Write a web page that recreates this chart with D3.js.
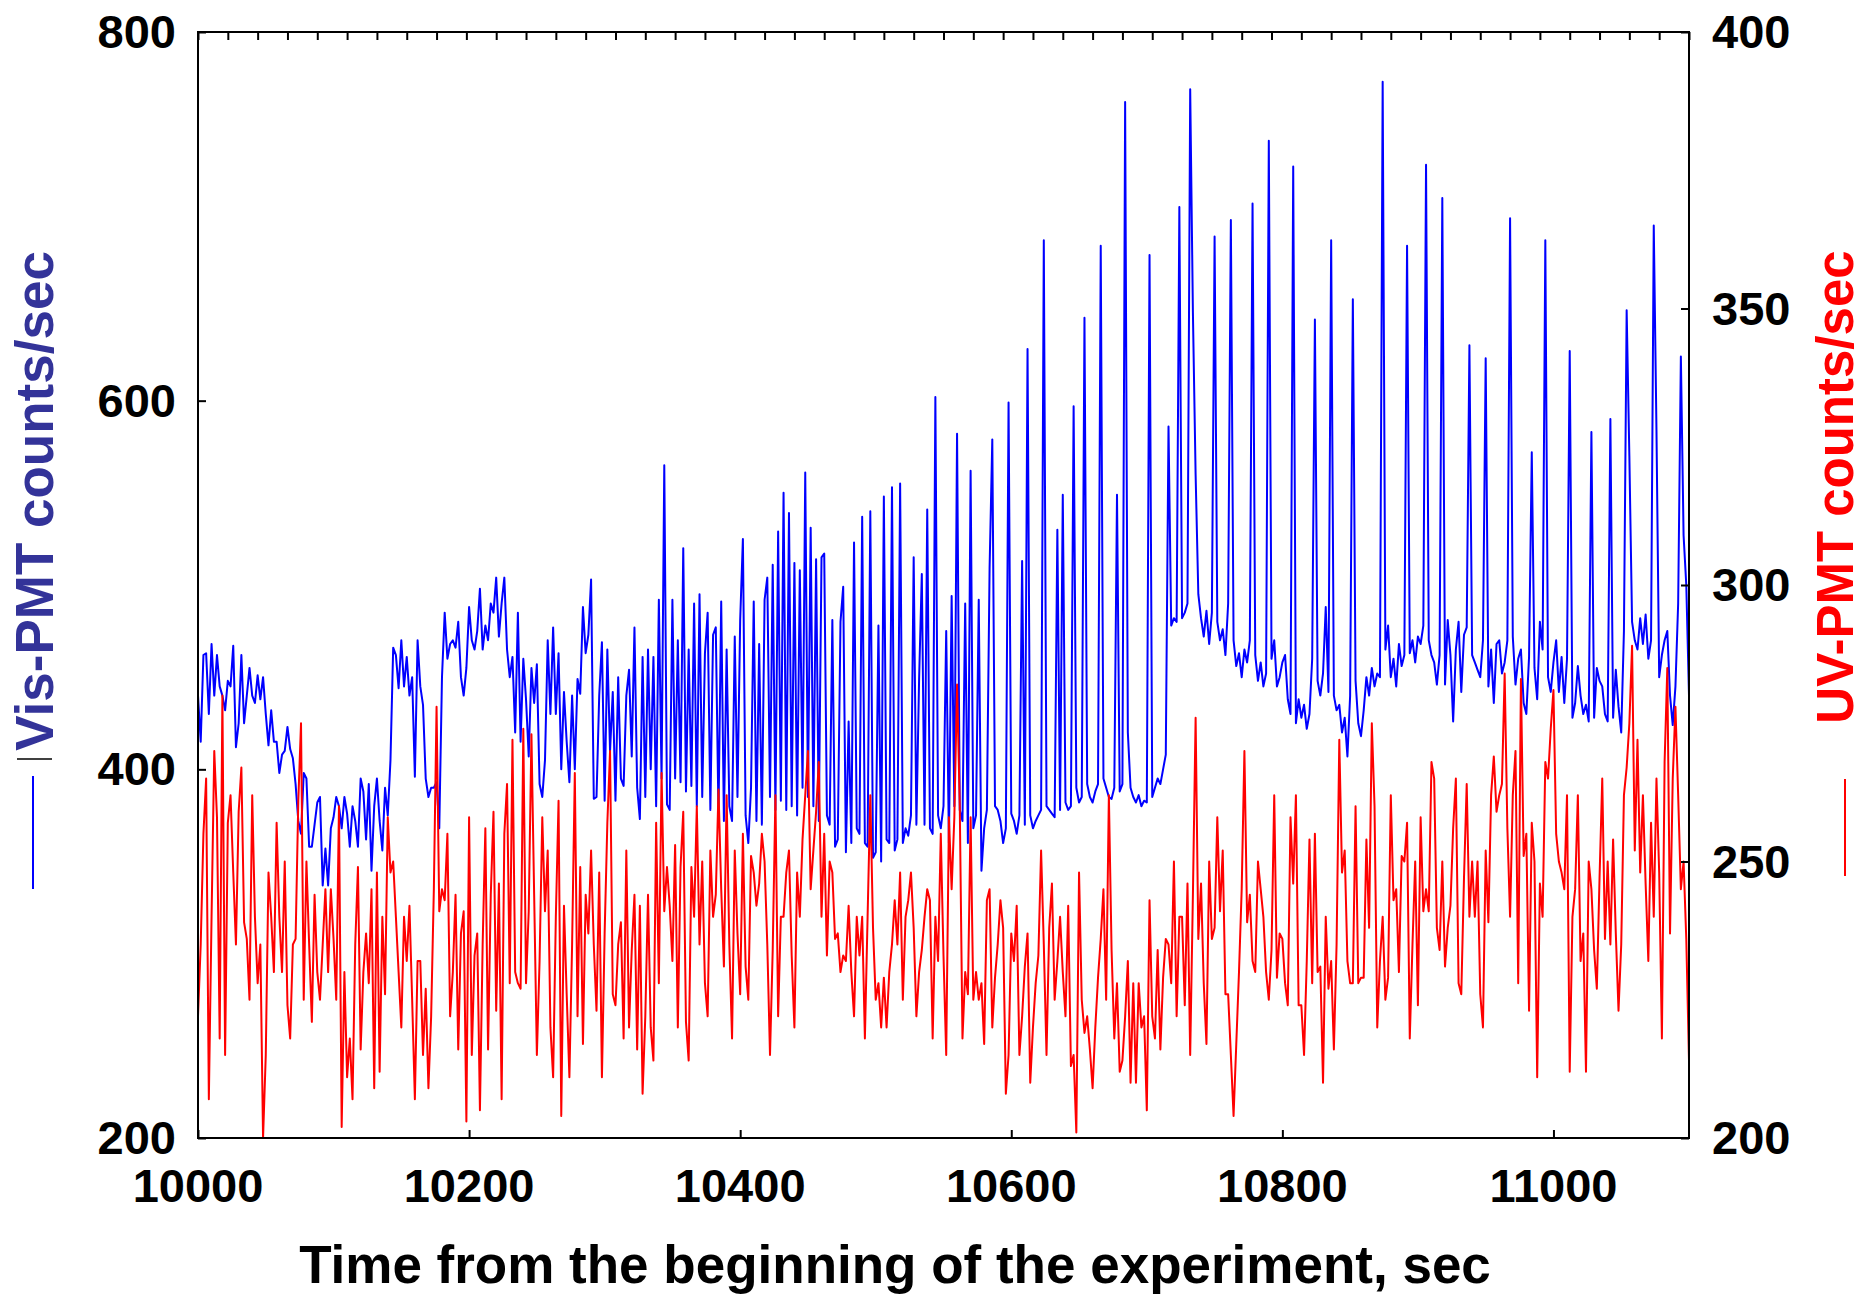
<!DOCTYPE html>
<html lang="en">
<head>
    <meta charset="UTF-8">
    <title>Vis-PMT and UV-PMT counts</title>
    <script src="https://d3js.org/d3.v7.min.js"></script>
    <style>
        body {
            margin: 0;
            background: white;
        }
        svg text {
            font-family: "Liberation Sans", Arial, sans-serif;
            font-weight: bold;
        }
    </style>
</head>
<body>
    <svg width="1866" height="1296"></svg>

    <script>
        // samples every 2 sec from t = 10000 s
        const timeStart = 10000;
        const timeStep = 2;

        // Vis-PMT counts/sec (left axis)
        const visCounts = [
            440, 415, 462, 463, 430, 468, 440, 462, 445, 440,
            432, 448, 445, 467, 412, 425, 462, 425, 440, 455,
            440, 436, 451, 438, 450, 430, 413, 432, 415, 415,
            398, 408, 410, 423, 411, 406, 392, 372, 365, 398,
            395, 358, 358, 370, 382, 385, 337, 357, 337, 368,
            374, 385, 380, 368, 385, 376, 358, 380, 372, 358,
            395, 388, 362, 392, 345, 380, 395, 372, 356, 390,
            375, 405, 466, 462, 444, 470, 445, 461, 440, 450,
            396, 470, 445, 435, 395, 385, 390, 390, 393, 368,
            450,
            485, 460, 468, 470, 466, 480, 450, 440, 455, 488,
            470, 465, 475, 498, 465, 478, 470, 490, 485, 504,
            472, 490, 504, 465, 450, 461, 420, 485, 415, 460,
            438, 407, 455, 436, 457, 392, 385, 405, 470, 430,
            477, 430, 463, 400, 442, 415, 393, 440, 400, 449,
            441, 488, 463, 473, 503, 384, 385, 440, 469, 383,
            465, 410, 442, 383, 450, 395, 391, 440, 454, 407,
            477, 390, 373, 461, 385, 465, 400, 461, 380, 492,
            395, 565, 381, 378, 492, 395, 470, 393, 520, 388,
            465, 391,
            490, 380, 495, 385, 463, 485, 378, 473, 477, 375,
            491, 372, 465, 380, 372, 472, 385, 481, 525, 375,
            360, 390, 491, 372, 468, 370, 492, 504, 385, 511,
            378, 529, 383, 550, 378, 539, 380, 512, 375, 508,
            390, 561, 385, 531, 380, 514, 372, 515, 517, 375,
            370, 481, 358, 362, 480, 499, 355, 426, 360, 523,
            368, 365, 537, 360, 358, 540, 352, 355, 478, 350,
            548, 362, 360, 553, 356, 362, 555, 360, 368, 364,
            375, 515, 370, 449, 506, 370, 541, 368, 365, 602,
            375, 368,
            380, 475, 360, 494, 380, 582, 378, 372, 490, 360,
            562, 368, 375, 492, 345, 368, 378, 509, 579, 380,
            378, 372, 360, 368, 599, 376, 372, 365, 375, 513,
            370, 628, 375, 368, 372, 375, 378, 687, 380, 378,
            376, 374, 530, 378, 549, 382, 378, 380, 597, 390,
            382, 385, 645, 392, 385, 382, 388, 392, 684, 395,
            390, 385, 384, 390, 549, 388, 392, 762, 420, 390,
            385, 382, 386, 380, 383, 382, 679, 385, 390, 395,
            392, 400, 408, 586, 478, 482, 480, 705, 482, 485,
            490, 769,
            648, 560, 495, 482, 472, 486, 468, 485, 689, 480,
            470, 476, 462, 490, 698, 470, 456, 463, 450, 465,
            458, 470, 707, 462, 448, 458, 445, 452, 741, 460,
            470, 445, 450, 458, 462, 438, 430, 727, 425, 438,
            428, 435, 422, 430, 460, 644, 448, 440, 452, 488,
            442, 687, 440, 432, 435, 420, 428, 407, 440, 655,
            448, 425, 418, 432, 450, 440, 455, 445, 452, 450,
            773, 465, 478, 450, 460, 445, 468, 456, 462, 684,
            463, 470, 458, 472, 468, 478, 728, 470, 462, 458,
            446, 462,
            710, 446, 481, 462, 426, 465, 480, 442, 473, 477,
            630, 462, 458, 454, 450, 470, 623, 445, 465, 436,
            468, 470, 452, 458, 470, 699, 472, 446, 460, 465,
            436, 430, 461, 572, 455, 438, 480, 465, 687, 450,
            442, 458, 470, 442, 461, 436, 460, 627, 428, 436,
            456, 440, 430, 435, 426, 583, 428, 455, 448, 445,
            430, 426, 590, 428, 454, 434, 420, 475, 649, 570,
            480, 470, 465, 482, 468, 484, 460, 470, 695, 584,
            450, 462, 470, 475, 440, 424, 445, 490, 624, 527,
            500, 440
        ];

        // UV-PMT counts/sec (right axis)
        const uvCounts = [
            222, 235, 255, 265, 207, 240, 270, 258, 218, 280,
            215, 257, 262, 248, 235, 259, 267, 239, 236, 225,
            262, 240, 228, 235, 200, 215, 248, 240, 230, 257,
            240, 230, 250, 224, 218, 235, 236, 261, 275, 225,
            250, 235, 221, 244, 230, 225, 235, 245, 230, 245,
            236, 225, 260, 202, 230, 211, 218, 207, 235, 249,
            216, 230, 237, 228, 245, 209, 248, 212, 240, 226,
            258, 248, 250, 240, 230, 220, 240, 232, 242, 225,
            207, 232, 232, 215, 227, 209, 222, 245, 278, 241,
            245,
            243, 255, 222, 230, 244, 216, 237, 241, 203, 258,
            215, 233, 237, 205, 235, 256, 216, 244, 259, 223,
            246, 207, 255, 264, 228, 272, 230, 228, 227, 274,
            228, 241, 273, 244, 215, 232, 258, 241, 252, 220,
            211, 240, 261, 204, 242, 226, 211, 235, 266, 222,
            249, 217, 244, 237, 252, 235, 223, 248, 211, 237,
            257, 270, 226, 224, 235, 239, 218, 252, 220, 234,
            244, 216, 242, 208, 222, 244, 220, 214, 257, 228,
            266, 241, 249, 242, 232, 253, 220, 249, 259, 221,
            214, 249,
            240, 260, 235, 250, 228, 222, 252, 240, 244, 263,
            245, 231, 262, 235, 218, 252, 237, 226, 255, 231,
            225, 251, 248, 242, 246, 255, 250, 235, 215, 234,
            262, 222, 240, 240, 248, 252, 233, 220, 248, 240,
            254, 262, 270, 245, 252, 259, 268, 240, 255, 233,
            250, 248, 236, 237, 230, 233, 232, 242, 230, 222,
            240, 233, 240, 218, 240, 262, 238, 225, 228, 220,
            229, 220, 230, 235, 243, 235, 248, 225, 240, 243,
            248, 238, 222, 230, 234, 240, 245, 243, 218, 240,
            232, 255,
            233, 215, 258, 245, 258, 282, 260, 218, 230, 226,
            258, 225, 230, 225, 228, 217, 243, 245, 220, 229,
            235, 243, 238, 208, 215, 237, 232, 242, 215, 222,
            231, 237, 210, 220, 228, 233, 252, 235, 215, 238,
            246, 225, 232, 240, 230, 222, 242, 213, 215, 201,
            248, 225, 219, 222, 216, 209, 220, 229, 236, 245,
            225, 262, 234, 218, 228, 212, 214, 222, 232, 210,
            228, 210, 228, 220, 222, 205, 243, 222, 218, 234,
            216, 229, 236, 235, 228, 250, 222, 240, 240, 224,
            246, 215,
            244, 276, 236, 246, 228, 217, 250, 236, 238, 258,
            241, 252, 226, 226, 215, 204, 217, 230, 245, 270,
            239, 244, 232, 230, 250, 245, 240, 230, 225, 234,
            262, 229, 237, 236, 228, 224, 258, 246, 262, 224,
            224, 215, 232, 254, 228, 255, 230, 231, 210, 240,
            227, 232, 216, 235, 272, 248, 252, 232, 228, 228,
            260, 228, 229, 229, 254, 238, 275, 260, 220, 232,
            240, 225, 229, 262, 243, 245, 230, 251, 250, 257,
            218, 235, 250, 224, 258, 241, 245, 241, 268, 265,
            238, 234,
            250, 231, 238, 242, 256, 265, 228, 226, 247, 264,
            240, 250, 240, 250, 226, 220, 252, 239, 262, 269,
            259, 262, 264, 284, 256, 240, 262, 270, 228, 283,
            251, 255, 223, 257, 250, 211, 246, 240, 268, 265,
            274, 281, 255, 250, 248, 245, 262, 212, 240, 245,
            262, 232, 237, 212, 250, 245, 234, 227, 247, 265,
            236, 250, 235, 254, 237, 223, 235, 262, 267, 275,
            289, 252, 272, 248, 262, 246, 232, 257, 240, 265,
            248, 218, 268, 285, 237, 265, 278, 262, 245, 250,
            236, 214
        ];

        const xTicks = [10000, 10200, 10400, 10600, 10800, 11000];
        const leftTicks = [200, 400, 600, 800];
        const rightTicks = [200, 250, 300, 350, 400];

        const times = visCounts.map((d, i) => timeStart + i * timeStep);

        // plot box in page pixels
        const box = { left: 198, right: 1689, top: 32, bottom: 1138 };

        const svg = d3.select("svg");
        svg.append("rect").attr("width", 1866).attr("height", 1296).attr("fill", "white");

        const x = d3.scaleLinear().domain([10000, 11100]).range([box.left, box.right]);
        const yL = d3.scaleLinear().domain([200, 800]).range([box.bottom, box.top]);
        const yR = d3.scaleLinear().domain([200, 400]).range([box.bottom, box.top]);

        // series
        const visLine = d3.line().x((d, i) => x(times[i])).y(d => yL(d));
        const uvLine = d3.line().x((d, i) => x(times[i])).y(d => yR(d));

        svg.append("path")
           .datum(visCounts)
           .attr("d", visLine)
           .attr("fill", "none")
           .attr("stroke", "#0000ff")
           .attr("stroke-width", 2)
           .attr("stroke-linejoin", "round");

        svg.append("path")
           .datum(uvCounts)
           .attr("d", uvLine)
           .attr("fill", "none")
           .attr("stroke", "#ff0000")
           .attr("stroke-width", 2)
           .attr("stroke-linejoin", "round");

        // axes (ticks point inward)
        const tickLen = 8;
        const fmt = d3.format("d");

        svg.append("g")
           .attr("transform", `translate(0,${box.bottom})`)
           .call(d3.axisTop(x).tickValues(xTicks).tickSize(tickLen).tickFormat(""));

        svg.append("g")
           .attr("transform", `translate(0,${box.top})`)
           .call(d3.axisBottom(x).tickValues(d3.range(10000, 11101, 22)).tickSize(tickLen).tickFormat(""));

        svg.append("g")
           .attr("transform", `translate(${box.left},0)`)
           .call(d3.axisRight(yL).tickValues(leftTicks).tickSize(tickLen).tickFormat(""));

        svg.append("g")
           .attr("transform", `translate(${box.right},0)`)
           .call(d3.axisLeft(yR).tickValues(rightTicks).tickSize(tickLen).tickFormat(""));

        svg.selectAll(".domain").remove();
        svg.selectAll(".tick line").attr("stroke", "#000").attr("stroke-width", 2);

        // frame
        svg.append("rect")
           .attr("x", box.left).attr("y", box.top)
           .attr("width", box.right - box.left).attr("height", box.bottom - box.top)
           .attr("fill", "none")
           .attr("stroke", "#000")
           .attr("stroke-width", 2);

        // tick labels
        svg.selectAll(".xlab").data(xTicks).enter().append("text")
           .attr("x", d => x(d)).attr("y", 1202)
           .attr("text-anchor", "middle")
           .attr("font-size", 47)
           .text(fmt);

        svg.selectAll(".llab").data(leftTicks).enter().append("text")
           .attr("x", 176).attr("y", d => yL(d) + 16)
           .attr("text-anchor", "end")
           .attr("font-size", 47)
           .text(fmt);

        svg.selectAll(".rlab").data(rightTicks).enter().append("text")
           .attr("x", 1712).attr("y", d => yR(d) + 16)
           .attr("text-anchor", "start")
           .attr("font-size", 47)
           .text(fmt);

        // axis titles
        svg.append("text")
           .attr("x", 895).attr("y", 1283)
           .attr("text-anchor", "middle")
           .attr("font-size", 53)
           .text("Time from the beginning of the experiment, sec");

        svg.append("text")
           .attr("transform", "translate(53,501) rotate(-90)")
           .attr("text-anchor", "middle")
           .attr("font-size", 53)
           .attr("fill", "#333399")
           .text("Vis-PMT counts/sec");

        svg.append("text")
           .attr("transform", "translate(1853,487) rotate(-90)")
           .attr("text-anchor", "middle")
           .attr("font-size", 51)
           .attr("fill", "#ff0000")
           .text("UV-PMT counts/sec");

        // legend line samples
        svg.append("line")
           .attr("x1", 17).attr("x2", 52).attr("y1", 759).attr("y2", 759)
           .attr("stroke", "#000").attr("stroke-width", 1.5);
        svg.append("line")
           .attr("x1", 33).attr("x2", 33).attr("y1", 776).attr("y2", 889)
           .attr("stroke", "#0000ff").attr("stroke-width", 2);
        svg.append("line")
           .attr("x1", 1845).attr("x2", 1845).attr("y1", 779).attr("y2", 876)
           .attr("stroke", "#ff0000").attr("stroke-width", 2);
    </script>
</body>
</html>
